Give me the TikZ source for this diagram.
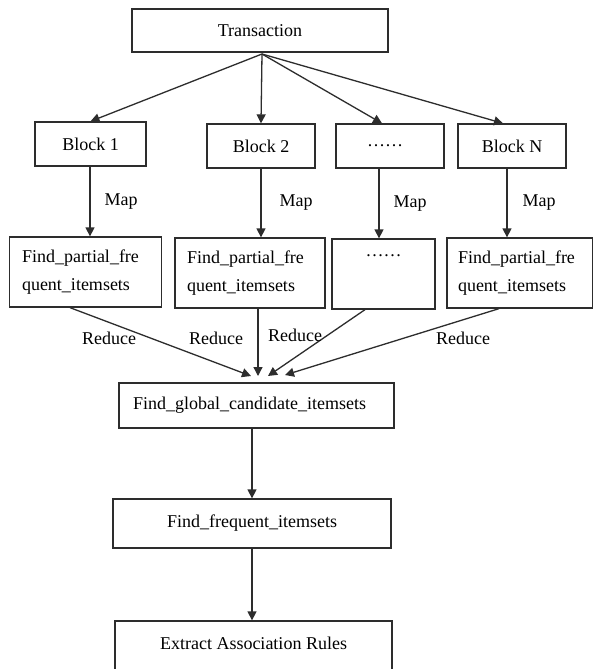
\documentclass[tikz,border=0pt]{standalone}
\usepackage{fontspec}
\setmainfont{Liberation Serif}
\usetikzlibrary{arrows.meta}
\definecolor{ln}{RGB}{45,45,45}
\begin{document}
\begin{tikzpicture}[x=1pt,y=-1pt,
  every node/.style={font=\fontsize{18}{28}\selectfont, text=black},
  box/.style={draw=ln, line width=1.3pt, rectangle, inner sep=0pt, anchor=center},
  arr/.style={draw=ln, line width=1.3pt, -{Triangle[length=9pt,width=9pt]}},
  lbl/.style={inner sep=0pt}]
\useasboundingbox (0,0) rectangle (593,669);
\clip (0,0) rectangle (593,669);
\fill[white] (0,0) rectangle (593,669);

% top
\node[box, minimum width=256pt, minimum height=43pt] (tr) at (260,30.5) {Transaction};

% blocks
\node[box, minimum width=111pt, minimum height=44pt] (b1) at (90.5,144) {Block 1};
\node[box, minimum width=108pt, minimum height=44pt] (b2) at (261,146) {Block 2};
\node[box, minimum width=108pt, minimum height=44pt] (b3) at (390,146) {……\hspace*{10pt}};
\node[box, minimum width=108pt, minimum height=44pt] (b4) at (512,146) {Block N};

% partial boxes
\node[box, minimum width=152pt, minimum height=70pt, align=left, text width=127pt] (p1) at (85.5,272) {Find\_partial\_fre\\quent\_itemsets};
\node[box, minimum width=150pt, minimum height=70pt, align=left, text width=126pt] (p2) at (250,273) {Find\_partial\_fre\\quent\_itemsets};
\node[box, minimum width=103pt, minimum height=70pt, align=center, text width=90pt] (p3) at (383.5,274) {……\hspace*{3pt}\\\strut};
\node[box, minimum width=146pt, minimum height=70pt, align=left, text width=124pt] (p4) at (520,273) {Find\_partial\_fre\\quent\_itemsets};

% lower chain
\node[box, minimum width=275pt, minimum height=45pt] (g) at (256.5,405.5) {\raisebox{3.5pt}{Find\_global\_candidate\_itemsets}\hspace*{14pt}};
\node[box, minimum width=278pt, minimum height=49pt] (f) at (252,523.5) {\raisebox{3.5pt}{Find\_frequent\_itemsets}};
\node[box, minimum width=277pt, minimum height=48.5pt] (e) at (253.5,645.25) {\raisebox{3.5pt}{Extract Association Rules}};

% transaction to blocks
\coordinate (o) at (262,54);
\draw[arr] (o) -- (b1.north);
\draw[arr] (o) -- (b2.north);
\draw[arr] (o) -- ([xshift=-8pt]b3.north);
\draw[arr] (o) -- ([xshift=-9pt]b4.north);

% map
\draw[arr] ([xshift=-0.5pt]b1.south) -- ([xshift=4.5pt]p1.north) node[lbl, midway, right=14pt] (m1) {Map};
\draw[arr] (b2.south) -- ([xshift=11pt]p2.north) node[lbl, midway, right=18pt] (m2) {Map};
\draw[arr] ([xshift=-11pt]b3.south) -- ([xshift=-4.5pt]p3.north) node[lbl, midway, right=14pt] (m3) {Map};
\draw[arr] ([xshift=-5pt]b4.south) -- ([xshift=-13pt]p4.north) node[lbl, midway, right=15pt] (m4) {Map};

% reduce
\coordinate (t1) at (251,376);
\coordinate (t2) at (258,376);
\coordinate (t3) at (268,376);
\coordinate (t4) at (285,375);
\draw[arr] ([xshift=-15.5pt]p1.south) -- (t1);
\draw[arr] ([xshift=8pt]p2.south) -- (t2);
\draw[arr] ([xshift=-18.5pt]p3.south) -- (t3);
\draw[arr] ([xshift=-21pt]p4.south) -- (t4);
\node[lbl] (r1) at (109,338) {Reduce};
\node[lbl] (r2) at (216,338) {Reduce};
\node[lbl] (r3) at (295,335) {Reduce};
\node[lbl] (r4) at (463,338) {Reduce};

% chain arrows
\draw[arr] ([xshift=-4.5pt]g.south) -- (f.north);
\draw[arr] (f.south) -- ([xshift=-1.5pt]e.north);
\end{tikzpicture}
\end{document}
